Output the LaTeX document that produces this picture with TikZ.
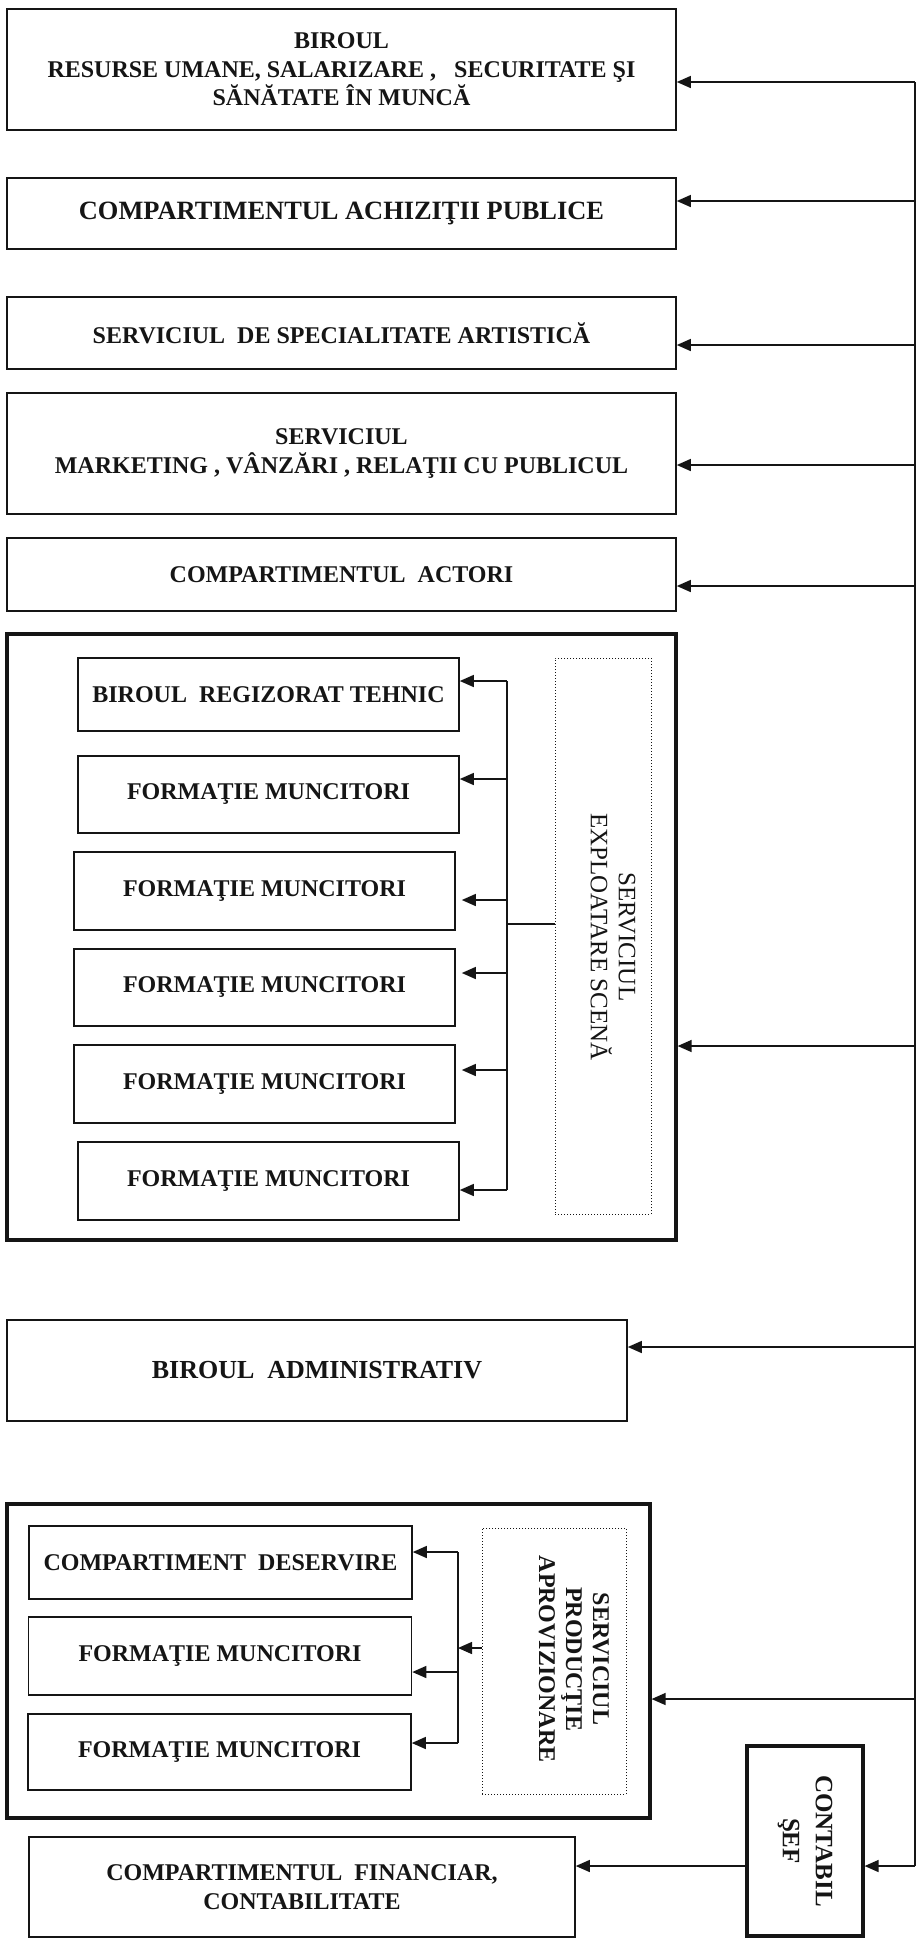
\documentclass[tikz,border=0pt]{standalone}
\usepackage{fontspec}
\setmainfont{Liberation Serif}
\usepackage{xcolor}
\usepackage{tikz}
\usetikzlibrary{arrows.meta}
\definecolor{paper}{HTML}{FFFFFF}
\definecolor{ink}{HTML}{151515}
\tikzset{
  box/.style={draw=ink, line width=0.8pt, inner sep=0pt, align=center, text=ink,
    font=\bfseries\fontsize{12}{14.25}\selectfont},
  frame/.style={draw=ink, line width=1.6pt, inner sep=0pt},
  dotbox/.style={draw=ink, densely dotted, line width=0.5pt, inner sep=0pt},
  vlab/.style={rotate=-90, align=center, text=ink, inner sep=0pt},
  link/.style={draw=ink, line width=0.7pt},
  arr/.style={link, -{Triangle[length=7pt,width=6pt]}},
}

\begin{document}
\begin{tikzpicture}[x=0.5pt,y=-0.5pt]
  \fill[paper] (0,0) rectangle (918,1939);
  \useasboundingbox (0,0) rectangle (918,1939);

  % upper offices
  \node[box, minimum width=334.5pt, minimum height=60.5pt] (hr) at (341.5,69.5)
    {BIROUL\\RESURSE UMANE, SALARIZARE ,\ \ \ SECURITATE ŞI\\SĂNĂTATE ÎN MUNCĂ};
  \node[box, minimum width=334.5pt, minimum height=35.5pt,
    font=\bfseries\fontsize{13.2}{15}\selectfont] (acq) at (341.5,213.5)
    {COMPARTIMENTUL ACHIZIŢII PUBLICE};
  \node[box, minimum width=334.5pt, minimum height=36pt] (art) at (341.5,333)
    {SERVICIUL\ \ DE SPECIALITATE ARTISTICĂ};
  \node[box, minimum width=334.5pt, minimum height=60.5pt] (mkt) at (341.5,453.5)
    {SERVICIUL\\MARKETING , VÂNZĂRI , RELAŢII CU PUBLICUL};
  \node[box, minimum width=334.5pt, minimum height=36.5pt] (act) at (341.5,574.5)
    {COMPARTIMENTUL\ \ ACTORI};

  % stage service
  \node[frame, minimum width=334.5pt, minimum height=303pt] (scena) at (341.5,937) {};
  \node[box, minimum width=190.5pt, minimum height=36.5pt] (rt) at (268.5,694.5)
    {BIROUL\ \ REGIZORAT TEHNIC};
  \node[box, minimum width=190.5pt, minimum height=38.5pt] (fm1) at (268.5,794.5) {FORMAŢIE MUNCITORI};
  \node[box, minimum width=190.5pt, minimum height=39pt] (fm2) at (264.5,891) {FORMAŢIE MUNCITORI};
  \node[box, minimum width=190.5pt, minimum height=38.5pt] (fm3) at (264.5,987.5) {FORMAŢIE MUNCITORI};
  \node[box, minimum width=190.5pt, minimum height=39pt] (fm4) at (264.5,1084) {FORMAŢIE MUNCITORI};
  \node[box, minimum width=190.5pt, minimum height=39pt] (fm5) at (268.5,1181) {FORMAŢIE MUNCITORI};
  \node[dotbox, minimum width=48pt, minimum height=278pt] (expl) at (603,936) {};
  \node[vlab, font=\fontsize{12.5}{14}\selectfont] (explt) at (613,937)
    {SERVICIUL\\EXPLOATARE SCENĂ};

  \foreach \n/\y/\g in {rt/681/0, fm1/779/0, fm2/900/3, fm3/973/3, fm4/1070/3, fm5/1190/0} {
    \coordinate (s\n) at (507,\y);
    \draw[arr, shorten >=\g pt] (s\n) -- (\n.east |- s\n);
  }
  \draw[link] (srt) -- (sfm5);
  \coordinate (sbus) at (507,924);
  \draw[link] (expl.west |- sbus) -- (sbus);

  \node[box, minimum width=310pt, minimum height=50.5pt,
    font=\bfseries\fontsize{13}{15}\selectfont] (adm) at (317,1370.5)
    {BIROUL\ \ ADMINISTRATIV};

  % production service
  \node[frame, minimum width=321.5pt, minimum height=157pt] (prod) at (328.5,1661) {};
  \node[box, minimum width=191.5pt, minimum height=36.5pt] (deserv) at (220.5,1562.5)
    {COMPARTIMENT\ \ DESERVIRE};
  \node[box, minimum width=191.5pt, minimum height=39pt] (pfm1) at (220,1656) {FORMAŢIE MUNCITORI};
  \node[box, minimum width=191.5pt, minimum height=38pt] (pfm2) at (219.5,1752) {FORMAŢIE MUNCITORI};
  \node[dotbox, minimum width=72pt, minimum height=133pt] (aprov) at (554,1661) {};
  \node[vlab, font=\bfseries\fontsize{12}{13.5}\selectfont] (aprovt) at (574,1659)
    {SERVICIUL\\PRODUCŢIE\\APROVIZIONARE};

  \foreach \n/\y in {deserv/1552, pfm1/1672, pfm2/1743} {
    \coordinate (p\n) at (458,\y);
    \draw[arr] (p\n) -- (\n.east |- p\n);
  }
  \draw[link] (pdeserv) -- (ppfm2);
  \coordinate (pbus) at (458,1648);
  \draw[arr] (aprov.west |- pbus) -- (pbus);

  % chief accountant
  \node[box, rotate=-90, line width=1.6pt, minimum width=95pt, minimum height=58pt,
    font=\bfseries\fontsize{12.5}{16.5}\selectfont] (cs) at (805,1841) {CONTABIL\\ŞEF};
  \node[box, minimum width=273pt, minimum height=50pt] (fin) at (302,1887)
    {COMPARTIMENTUL\ \ FINANCIAR,\\CONTABILITATE};

  % main trunk
  \foreach \n/\y in {hr/82, acq/201, art/345, mkt/465, act/586, scena/1046, adm/1347, prod/1699} {
    \coordinate (t\n) at (915,\y);
    \draw[arr] (t\n) -- (\n.east |- t\n);
  }
  \coordinate (tcs) at (915,1866);
  \draw[link] (thr) -- (tcs);
  \draw[arr] (tcs) -- (cs.north |- tcs); % rotated node: north faces right
  \draw[arr] (cs.south |- tcs) -- (fin.east |- tcs);
\end{tikzpicture}
\end{document}
